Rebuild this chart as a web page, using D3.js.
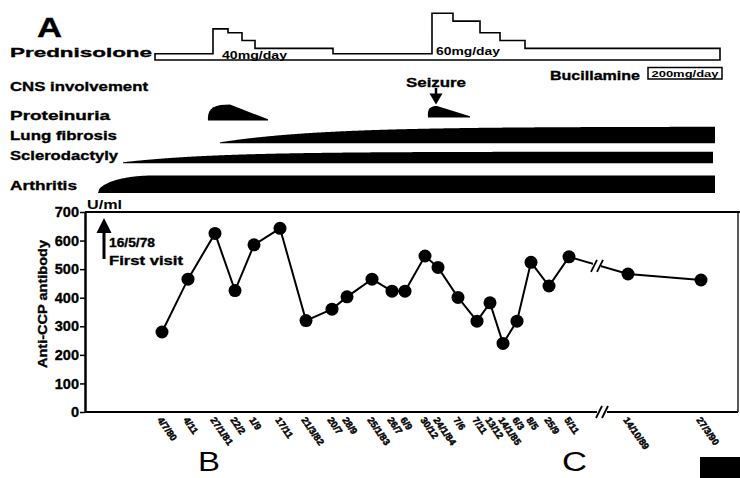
<!DOCTYPE html>
<html>
<head>
<meta charset="utf-8">
<script src="https://cdn.jsdelivr.net/npm/d3@7"></script>
<style>
  body { margin: 0; background: #fff; }
  svg { display: block; }
  text { font-family: "Liberation Sans", Arial, Helvetica, sans-serif; font-weight: bold; fill: #000; }
  .heavy { stroke: #000; stroke-width: 0.35px; }
  .dates { opacity: 0.99; -webkit-font-smoothing: antialiased; }
</style>
</head>
<body>
<svg id="chart" width="740" height="478"></svg>
<script>
// ---- Anti-CCP antibody follow-up (U/ml) ----
const visitDates = ["4/7/80", "4/11", "27/1/81", "22/2", "1/9", "17/11", "21/3/82", "20/7", "28/9",
  "25/1/83", "26/7", "6/9", "30/12", "24/1/84", "7/6", "7/11", "13/12", "14/1/85", "6/3", "8/5",
  "25/9", "5/11", "14/10/89", "27/3/90"];
// position of each visit along the clinical timeline (timeline units)
const visitPos = [77, 103, 130, 150, 169, 195, 221, 247, 262, 287, 307, 320, 340, 353, 373, 392,
  405, 418, 432, 446, 464, 484, 543, 616];
const antiCCP = [280, 465, 625, 425, 585, 643, 320, 360, 403, 465, 423, 423, 546, 506, 401, 318,
  382, 240, 318, 524, 441, 543, 483, 462];
const yTicks = [0, 100, 200, 300, 400, 500, 600, 700];
const timelineBreak = 515;      // gap in the timeline between 1985 and 1989
const firstVisit = 19;          // 16/5/78

// ---- Treatment: prednisolone steps (start in timeline units, dose in mg/day) ----
const predStart = [70, 128, 143, 157, 170, 248, 347, 368, 395, 415, 440];
const predDose  = [8, 40, 35, 25, 15, 8, 60, 50, 35, 25, 15];
const predEnd = 635;

// ---- Clinical findings ----
const findingNames = ["Lung fibrosis", "Sclerodactyly", "Arthritis"];
const findingOnset = [135, 38, 13];
const findingEnd = [630, 628, 630];
const proteinuriaStart = [123, 343];
const proteinuriaPeak  = [145, 352];
const proteinuriaEnd   = [183, 385];
const proteinuriaGrade = [16, 11.5];
const seizureAt = 351;

const svg = d3.select("#chart");
const x = d3.scaleLinear().domain([0, 653]).range([85, 738]);
const y = d3.scaleLinear().domain([0, 700]).range([412, 212]);
const dose = d3.scaleLinear().domain([0, 60]).range([60, 13.3]);

// ================= top panel =================
svg.append("text").attr("x", 37).attr("y", 37).attr("font-size", 27)
  .attr("textLength", 25).attr("lengthAdjust", "spacingAndGlyphs").attr("class", "heavy").text("A");

const rowLabels = [
  { t: "Prednisolone", y: 57, w: 142 },
  { t: "CNS involvement", y: 91, w: 138 },
  { t: "Proteinuria", y: 120, w: 100 },
  { t: "Lung fibrosis", y: 140, w: 107 },
  { t: "Sclerodactyly", y: 160, w: 108 },
  { t: "Arthritis", y: 190, w: 67 }
];
svg.selectAll("text.row").data(rowLabels).enter().append("text")
  .attr("class", "row heavy").attr("x", 10).attr("y", d => d.y).attr("font-size", 13.5)
  .attr("textLength", d => d.w).attr("lengthAdjust", "spacingAndGlyphs").text(d => d.t);

// prednisolone step outline
const predPts = [[x(predStart[0]), dose(0)]];
predStart.forEach((s, i) => {
  const e = i < predStart.length - 1 ? predStart[i + 1] : predEnd;
  predPts.push([x(s), dose(predDose[i])]);
  predPts.push([x(e), dose(predDose[i])]);
});
predPts.push([x(predEnd), dose(0)]);
svg.append("path").attr("d", d3.line()(predPts) + "Z")
  .attr("fill", "none").attr("stroke", "#000").attr("stroke-width", 1.6);

svg.append("text").attr("x", 222).attr("y", 59).attr("font-size", 10.5)
  .attr("textLength", 65).attr("lengthAdjust", "spacingAndGlyphs").text("40mg/day");
svg.append("text").attr("x", 436).attr("y", 55).attr("font-size", 10.5)
  .attr("textLength", 64).attr("lengthAdjust", "spacingAndGlyphs").text("60mg/day");

// bucillamine
svg.append("text").attr("x", 550).attr("y", 80).attr("font-size", 13.5).attr("class", "heavy")
  .attr("textLength", 90).attr("lengthAdjust", "spacingAndGlyphs").text("Bucillamine");
svg.append("rect").attr("x", 648).attr("y", 67.5).attr("width", 74).attr("height", 11.5)
  .attr("fill", "#fff").attr("stroke", "#000").attr("stroke-width", 1.5);
svg.append("text").attr("x", 651.5).attr("y", 76.5).attr("font-size", 8.5)
  .attr("textLength", 67).attr("lengthAdjust", "spacingAndGlyphs").text("200mg/day");

// seizure marker
const sx = x(seizureAt);
svg.append("text").attr("x", sx).attr("y", 87).attr("font-size", 13.5).attr("class", "heavy")
  .attr("text-anchor", "middle").attr("textLength", 60).attr("lengthAdjust", "spacingAndGlyphs").text("Seizure");
svg.append("line").attr("x1", sx).attr("x2", sx).attr("y1", 88).attr("y2", 95)
  .attr("stroke", "#000").attr("stroke-width", 2.5);
svg.append("path").attr("d", `M${sx - 6.5},93.5L${sx + 6.5},93.5L${sx},104.5Z`).attr("fill", "#000");

// proteinuria episodes
proteinuriaStart.forEach((s, i) => {
  const base = i === 0 ? 120.5 : 117.5;
  const h = proteinuriaGrade[i];
  const xs = x(s), xp = x(proteinuriaPeak[i]), xe = x(proteinuriaEnd[i]);
  const p = d3.path();
  p.moveTo(xs, base);
  p.bezierCurveTo(xs - 1, base - 0.8 * h, xs + 0.3 * (xp - xs), base - h, xp, base - h);
  p.lineTo(xe, base - 1.2);
  p.lineTo(xe, base);
  p.closePath();
  svg.append("path").attr("d", p.toString()).attr("fill", "#000");
});

// chronic findings as widening bands
const bandBase = [143.3, 163.3, 193];
const bandThick = [
  t => 1 + 15.6 * (1 - Math.exp(-t / 100)),
  t => 1 + 10.6 * (1 - Math.exp(-t / 90)),
  t => 17.5 * Math.sqrt(1 - Math.pow(1 - Math.min(1, t / 55), 2))
];
findingNames.forEach((n, i) => {
  const us = d3.range(findingOnset[i], findingEnd[i] + 0.5, 1);
  const area = d3.area()
    .x(u => x(u))
    .y0(bandBase[i])
    .y1(u => bandBase[i] - bandThick[i](u - findingOnset[i]));
  svg.append("path").attr("d", area(us)).attr("fill", "#000");
});

// ================= bottom panel =================
// frame
svg.append("line").attr("x1", 85).attr("x2", 740).attr("y1", 212).attr("y2", 212)
  .attr("stroke", "#000").attr("stroke-width", 2);
svg.append("line").attr("x1", 738).attr("x2", 738).attr("y1", 212).attr("y2", 412)
  .attr("stroke", "#000").attr("stroke-width", 1.3);
svg.append("line").attr("x1", 85).attr("x2", 738).attr("y1", 412).attr("y2", 412)
  .attr("stroke", "#000").attr("stroke-width", 2);

// y axis
const yAxis = svg.append("g").attr("transform", "translate(85,0)")
  .call(d3.axisLeft(y).tickValues(yTicks).tickSize(5).tickSizeOuter(0).tickPadding(1));
yAxis.select(".domain").attr("stroke-width", 2.5);
yAxis.selectAll(".tick line").attr("stroke-width", 1.5);
yAxis.selectAll(".tick text").attr("font-size", 14.5).attr("font-family", "Liberation Sans, Arial, sans-serif")
  .attr("font-weight", "bold").attr("class", "heavy");

svg.append("text").attr("x", 87).attr("y", 209).attr("font-size", 12)
  .attr("textLength", 35).attr("lengthAdjust", "spacingAndGlyphs").text("U/ml");
svg.append("text").attr("transform", "translate(47,304) rotate(-90)").attr("text-anchor", "middle")
  .attr("font-size", 13).attr("class", "heavy")
  .attr("textLength", 128).attr("lengthAdjust", "spacingAndGlyphs").text("Anti-CCP antibody");

// first visit marker
const fx = x(firstVisit);
svg.append("path").attr("d", `M${fx - 7.5},233L${fx},218L${fx + 7.5},233Z`).attr("fill", "#000");
svg.append("line").attr("x1", fx).attr("x2", fx).attr("y1", 232).attr("y2", 259)
  .attr("stroke", "#000").attr("stroke-width", 3);
svg.append("text").attr("x", fx + 5).attr("y", 247).attr("font-size", 12.5).attr("class", "heavy")
  .attr("textLength", 46).attr("lengthAdjust", "spacingAndGlyphs").text("16/5/78");
svg.append("text").attr("x", fx + 5).attr("y", 265).attr("font-size", 12.5).attr("class", "heavy")
  .attr("textLength", 74).attr("lengthAdjust", "spacingAndGlyphs").text("First visit");

// anti-CCP line and points
const idx = d3.range(antiCCP.length);
const line = d3.line().x(i => x(visitPos[i])).y(i => y(antiCCP[i]));
svg.append("path").attr("d", line(idx)).attr("fill", "none").attr("stroke", "#000").attr("stroke-width", 2);

// break marks on the series line and on the time axis
const bi = visitPos.findIndex(p => p > timelineBreak);
const t = (timelineBreak - visitPos[bi - 1]) / (visitPos[bi] - visitPos[bi - 1]);
const lbx = x(timelineBreak) - 3;
const lby = y(antiCCP[bi - 1] + t * (antiCCP[bi] - antiCCP[bi - 1]));
svg.append("rect").attr("x", lbx - 4).attr("y", lby - 4).attr("width", 8).attr("height", 8).attr("fill", "#fff");
[-3, 3].forEach(o => svg.append("line").attr("x1", lbx + o - 3).attr("y1", lby + 6).attr("x2", lbx + o + 3).attr("y2", lby - 6)
  .attr("stroke", "#000").attr("stroke-width", 1.8));
const abx = x(timelineBreak) + 2;
svg.append("rect").attr("x", abx - 5).attr("y", 409).attr("width", 10).attr("height", 6).attr("fill", "#fff");
[-3, 3].forEach(o => svg.append("line").attr("x1", abx + o - 3).attr("y1", 418).attr("x2", abx + o + 3).attr("y2", 406)
  .attr("stroke", "#000").attr("stroke-width", 1.8));

svg.selectAll("circle.pt").data(idx).enter().append("circle").attr("class", "pt")
  .attr("cx", i => x(visitPos[i])).attr("cy", i => y(antiCCP[i])).attr("r", 6.5).attr("fill", "#000");

// visit date labels
svg.append("g").attr("class", "dates").selectAll("text").data(idx).enter().append("text")
  .attr("transform", i => `translate(${x(visitPos[i]) - 5},420) rotate(55)`)
  .attr("font-size", 9.5).attr("stroke", "#000").attr("stroke-width", 0.5).text(i => visitDates[i]);

// panel letters
svg.append("text").attr("x", 198).attr("y", 471).attr("font-size", 28)
  .style("font-weight", "normal").attr("textLength", 22).attr("lengthAdjust", "spacingAndGlyphs").text("B");
svg.append("text").attr("x", 562).attr("y", 471).attr("font-size", 27)
  .style("font-weight", "normal").attr("textLength", 25).attr("lengthAdjust", "spacingAndGlyphs").text("C");
svg.append("rect").attr("x", 700).attr("y", 457).attr("width", 40).attr("height", 21).attr("fill", "#000");
</script>
</body>
</html>
